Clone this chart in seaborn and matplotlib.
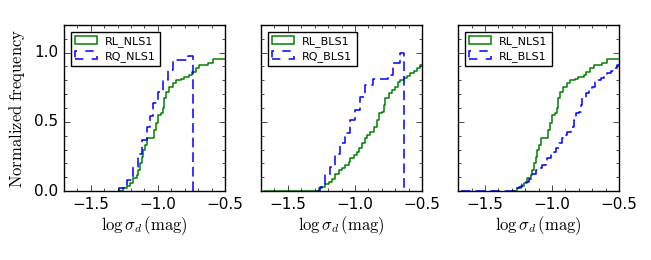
import matplotlib
matplotlib.use("Agg")
import matplotlib.pyplot as plt
from matplotlib.patches import Patch
from matplotlib.ticker import MultipleLocator
import seaborn as sns

# cumulative step curves: x = bin edge where the step rises, y = level after it
rl_nls1_x = [-1.28, -1.258, -1.233, -1.208, -1.183, -1.158, -1.146, -1.134, -1.121, -1.109,
             -1.096, -1.084, -1.027, -1.014, -0.997, -0.977, -0.965, -0.952, -0.940, -0.915,
             -0.890, -0.865, -0.828, -0.803, -0.765, -0.744, -0.716, -0.690, -0.629, -0.592, -0.45]
rl_nls1_y = [0.0, 0.019, 0.039, 0.055, 0.092, 0.116, 0.152, 0.200, 0.248, 0.296,
             0.333, 0.381, 0.441, 0.489, 0.550, 0.562, 0.598, 0.670, 0.718, 0.754,
             0.779, 0.803, 0.810, 0.825, 0.839, 0.863, 0.887, 0.911, 0.923, 0.952, 0.952]

rq_nls1_x = [-1.30, -1.293, -1.231, -1.184, -1.146, -1.12, -1.084, -1.06, -1.035, -0.997,
             -0.96, -0.922, -0.885, -0.774, -0.741, -0.741]
rq_nls1_y = [0.0, 0.024, 0.08, 0.175, 0.27, 0.37, 0.465, 0.54, 0.634, 0.718,
             0.80, 0.875, 0.947, 0.976, 0.976, 0.0]

rl_bls1_x = [-1.68, -1.285, -1.270, -1.245, -1.221, -1.196, -1.171, -1.146, -1.121, -1.096,
             -1.072, -1.047, -1.034, -1.009, -0.985, -0.972, -0.947, -0.923, -0.910, -0.885,
             -0.860, -0.836, -0.823, -0.798, -0.786, -0.774, -0.749, -0.724, -0.699, -0.679,
             -0.662, -0.637, -0.612, -0.587, -0.562, -0.538, -0.513, -0.493, -0.45]
rl_bls1_y = [0.0, 0.0, 0.019, 0.031, 0.048, 0.067, 0.087, 0.121, 0.152, 0.169,
             0.188, 0.212, 0.236, 0.260, 0.284, 0.309, 0.345, 0.381, 0.405, 0.429,
             0.465, 0.513, 0.562, 0.574, 0.622, 0.670, 0.706, 0.730, 0.754, 0.786,
             0.803, 0.815, 0.834, 0.851, 0.868, 0.892, 0.911, 0.923, 0.923]

rq_bls1_x = [-1.285, -1.26, -1.223, -1.186, -1.149, -1.111, -1.074, -1.037, -1.0, -0.962,
             -0.925, -0.863, -0.751, -0.714, -0.664, -0.635, -0.635]
rq_bls1_y = [0.0, 0.03, 0.116, 0.176, 0.27, 0.345, 0.417, 0.513, 0.586, 0.682,
             0.766, 0.807, 0.84, 0.923, 0.996, 0.996, 0.0]

panels = [
    (("RL_NLS1", rl_nls1_x, rl_nls1_y), ("RQ_NLS1", rq_nls1_x, rq_nls1_y)),
    (("RL_BLS1", rl_bls1_x, rl_bls1_y), ("RQ_BLS1", rq_bls1_x, rq_bls1_y)),
    (("RL_NLS1", rl_nls1_x, rl_nls1_y), ("RL_BLS1", rl_bls1_x, rl_bls1_y)),
]

plt.style.use("classic")
plt.rcParams["mathtext.fontset"] = "cm"
plt.rcParams["font.family"] = ["DejaVu Sans"]
plt.rcParams["lines.scale_dashes"] = False

fig, axes = plt.subplots(1, 3, figsize=(6.51, 2.6), dpi=100, sharey=True)
fig.patch.set_facecolor("white")
fig.subplots_adjust(left=0.0983, right=0.951, bottom=0.265, top=0.904, wspace=0.224)

dash = (0, (7, 3.5))
for ax, (solid, dashed) in zip(axes, panels):
    sns.lineplot(x=solid[1], y=solid[2], ax=ax, color="g", lw=1.1,
                 drawstyle="steps-post", estimator=None, sort=False)
    sns.lineplot(x=dashed[1], y=dashed[2], ax=ax, color="b", lw=1.1, linestyle=dash,
                 drawstyle="steps-post", estimator=None, sort=False)
    ax.set_xlim(-1.7, -0.5)
    ax.set_ylim(0, 1.2)
    ax.set_xticks([-1.5, -1.0, -0.5])
    ax.set_yticks([0.0, 0.5, 1.0])
    ax.xaxis.set_minor_locator(MultipleLocator(0.1))
    ax.yaxis.set_minor_locator(MultipleLocator(0.1))
    ax.tick_params(labelsize=11)
    ax.set_xlabel(r"$\log\sigma_d\,(\mathrm{mag})$", fontsize=12, labelpad=2)
    handles = [Patch(facecolor="none", edgecolor="g", lw=1.1, label=solid[0]),
               Patch(facecolor="none", edgecolor="b", lw=1.1, linestyle="--", label=dashed[0])]
    ax.legend(handles=handles, loc="upper left", fontsize=8, handlelength=2.0,
              borderaxespad=0.6, labelspacing=0.35, borderpad=0.4, handletextpad=0.7)

axes[0].set_ylabel(r"$\mathrm{Normalized\ frequency}$", fontsize=12)
axes[0].set_yticklabels(["0.0", "0.5", "1.0"])

fig.savefig("out.png", dpi=100, facecolor="white")
